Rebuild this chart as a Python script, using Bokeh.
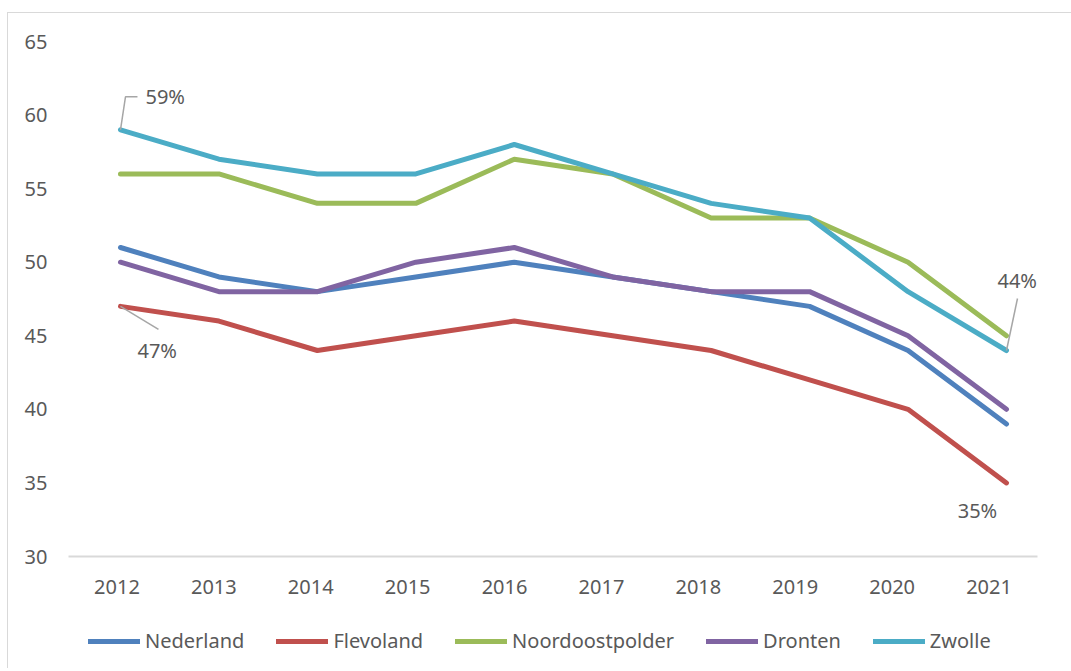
from bokeh.plotting import figure
from bokeh.layouts import column
from bokeh.models import (Range1d, LinearAxis, FixedTicker, Legend, LegendItem)
from bokeh.core.properties import value
from bokeh.embed import file_html
from bokeh.resources import INLINE

years = [2012, 2013, 2014, 2015, 2016, 2017, 2018, 2019, 2020, 2021]
nederland = [51, 49, 48, 49, 50, 49, 48, 47, 44, 39]
flevoland = [47, 46, 44, 45, 46, 45, 44, 42, 40, 35]
noordoostpolder = [56, 56, 54, 54, 57, 56, 53, 53, 50, 45]
dronten = [50, 48, 48, 50, 51, 49, 48, 48, 45, 40]
zwolle = [59, 57, 56, 56, 58, 56, 54, 53, 48, 44]
y_ticks = [30, 35, 40, 45, 50, 55, 60, 65]

series = [
    ("Nederland", nederland, "#4F81BD"),
    ("Flevoland", flevoland, "#C0504D"),
    ("Noordoostpolder", noordoostpolder, "#9BBB59"),
    ("Dronten", dronten, "#8064A2"),
    ("Zwolle", zwolle, "#4BACC6"),
]

FONT = "Noto Sans"
TXT = "#595959"
FS = "20px"

idx = list(range(len(years)))

p = figure(width=1055, height=600, output_backend="svg", toolbar_location=None,
           x_range=Range1d(-0.528, 9.315), y_range=Range1d(30, 65),
           x_axis_location=None, min_border_left=60, min_border_right=26,
           min_border_top=28, min_border_bottom=57)
p.outline_line_color = None
p.xgrid.visible = False
p.ygrid.visible = False

# y axis
ya = p.yaxis[0]
ya.ticker = FixedTicker(ticks=y_ticks)
ya.axis_line_color = None
ya.major_tick_line_color = None
ya.minor_tick_line_color = None
ya.major_label_text_font = FONT
ya.major_label_text_font_size = FS
ya.major_label_text_color = TXT
ya.major_label_standoff = 15

# x axis on its own label range
p.extra_x_ranges = {"lab": Range1d(-0.5, len(years) - 0.5)}
xa = LinearAxis(x_range_name="lab", ticker=FixedTicker(ticks=idx),
                major_label_overrides={i: str(y) for i, y in enumerate(years)})
xa.axis_line_color = "#d9d9d9"
xa.axis_line_width = 2
xa.major_tick_line_color = None
xa.minor_tick_line_color = None
xa.major_label_text_font = FONT
xa.major_label_text_font_size = FS
xa.major_label_text_color = TXT
xa.major_label_standoff = 17
p.add_layout(xa, "below")

for name, vals, col in series:
    p.line(idx, vals, line_color=col, line_width=5, line_join="round", line_cap="round")

# data labels with leader lines
PXX = 98.44  # px per category
PXY = 14.714  # px per unit
def off(i, v, dx, dy):
    return i + dx / PXX, v - dy / PXY

# 59% Zwolle 2012
x0, y0 = 0, zwolle[0]
a = off(x0, y0, 5, -33)
b = off(x0, y0, 17, -33)
p.line([x0, a[0], b[0]], [y0, a[1], b[1]], line_color="#a6a6a6", line_width=1.5)
# 47% Flevoland 2012
x1, y1 = 0, flevoland[0]
c = off(x1, y1, 38, 23)
p.line([x1, c[0]], [y1, c[1]], line_color="#a6a6a6", line_width=1.5)
# 44% Zwolle 2021
x2, y2 = 9, zwolle[9]
d = off(x2, y2, 11, -52)
p.line([x2, d[0]], [y2, d[1]], line_color="#a6a6a6", line_width=1.5)

lab_kw = dict(text_font=value(FONT), text_font_size=FS, text_color=TXT,
              text_baseline="middle")
p.text([x0], [y0], text=[f"{zwolle[0]}%"], x_offset=25, y_offset=-33, text_align="left", **lab_kw)
p.text([x1], [y1], text=[f"{flevoland[0]}%"], x_offset=17, y_offset=44, text_align="left", **lab_kw)
p.text([x2], [y2], text=[f"{zwolle[9]}%"], x_offset=-9, y_offset=-70, text_align="left", **lab_kw)
p.text([9], [flevoland[9]], text=[f"{flevoland[9]}%"], x_offset=-29, y_offset=28, text_align="center", **lab_kw)

# legend strip (series drawn out of view, only their legend glyphs show)
p2 = figure(width=1055, height=55, output_backend="svg", toolbar_location=None,
            x_range=Range1d(0, 1), y_range=Range1d(0, 1),
            x_axis_location=None, y_axis_location=None,
            min_border_left=0, min_border_right=0, min_border_top=0, min_border_bottom=0)
p2.outline_line_color = None
p2.xgrid.visible = False
p2.ygrid.visible = False
items = []
for name, vals, col in series:
    r = p2.line(idx, vals, line_color=col, line_width=5, line_join="round", line_cap="round")
    items.append(LegendItem(label=name, renderers=[r]))

legend = Legend(items=items, orientation="horizontal", location=(20, 14),
                glyph_width=52, glyph_height=20, label_standoff=5, spacing=32,
                padding=0, margin=0, border_line_color=None, background_fill_alpha=0,
                label_text_font=FONT, label_text_font_size=FS, label_text_color=TXT)
p2.add_layout(legend)

layout = column(p, p2, spacing=0)
layout.styles = {"border-top": "1px solid #d9d9d9", "border-left": "1px solid #d9d9d9",
                 "margin-top": "12px", "margin-left": "7px", "padding-right": "8px"}

open("out.html", "w").write(file_html(layout, INLINE))
